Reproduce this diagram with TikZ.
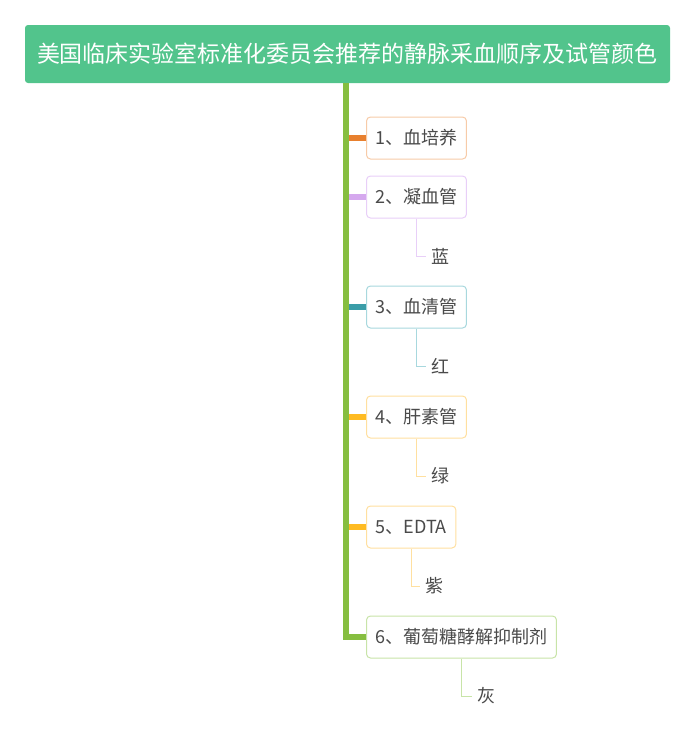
\documentclass[tikz,border=0pt]{standalone}
\usepackage{fontspec}
\setmainfont{Noto Sans CJK SC}
\definecolor{titlegreen}{HTML}{52C48C}
\definecolor{trunkc}{HTML}{86BE40}
\definecolor{txt}{HTML}{4A4A4A}
\definecolor{s1}{HTML}{E8802E}\definecolor{b1c}{HTML}{F7CBA8}
\definecolor{s2}{HTML}{D5A8EE}\definecolor{b2c}{HTML}{E8CFF8}
\definecolor{s3}{HTML}{3A9DA8}\definecolor{b3c}{HTML}{A8D8DE}
\definecolor{s4}{HTML}{FFBB22}\definecolor{b4c}{HTML}{FFE0A0}
\definecolor{b6c}{HTML}{C8E4A8}
\tikzset{
  titlebox/.style={fill=titlegreen, rounded corners=3pt, minimum width=645pt, minimum height=58pt, text=white, font=\fontsize{23}{26}\selectfont, inner sep=0pt},
  itembox/.style={draw=#1, line width=1pt, fill=white, rounded corners=4pt, minimum height=42pt, inner xsep=9pt, inner ysep=0pt, text=txt, font=\fontsize{18}{20}\selectfont, anchor=west},
  leaf/.style={text=txt, font=\fontsize{18}{20}\selectfont, anchor=west, inner xsep=5pt},
  stub/.style={line width=6pt, draw=#1},
  twig/.style={line width=1pt, draw=#1},
}
\begin{document}
\begin{tikzpicture}[x=1pt,y=-1pt]
\useasboundingbox (0,0) rectangle (692,737);
\node[titlebox] (title) at (347.5,54) {美国临床实验室标准化委员会推荐的静脉采血顺序及试管颜色};
\coordinate (t) at (346,83);
\node[itembox=b1c] (n1) at (366,138) {1、血培养};
\node[itembox=b2c] (n2) at (366,197) {2、凝血管};
\node[itembox=b3c] (n3) at (366,307) {3、血清管};
\node[itembox=b4c] (n4) at (366,417) {4、肝素管};
\node[itembox=b4c] (n5) at (366,527) {5、EDTA};
\node[itembox=b6c] (n6) at (366,637) {6、葡萄糖酵解抑制剂};
\draw[stub=s1] (t |- n1.west) -- (n1.west);
\draw[stub=s2] (t |- n2.west) -- (n2.west);
\draw[stub=s3] (t |- n3.west) -- (n3.west);
\draw[stub=s4] (t |- n4.west) -- (n4.west);
\draw[stub=s4] (t |- n5.west) -- (n5.west);
\draw[stub=trunkc] (t) |- (n6.west);
\node[leaf] (k2) at (426,256) {蓝};
\node[leaf] (k3) at (426,366) {红};
\node[leaf] (k4) at (426,476) {绿};
\node[leaf] (k5) at (420,586) {紫};
\node[leaf] (k6) at (472,696) {灰};
\draw[twig=b2c] (n2.south) |- (k2.west);
\draw[twig=b3c] (n3.south) |- (k3.west);
\draw[twig=b4c] (n4.south) |- (k4.west);
\draw[twig=b4c] (n5.south) |- (k5.west);
\draw[twig=b6c] (n6.south) |- (k6.west);
\end{tikzpicture}
\end{document}
